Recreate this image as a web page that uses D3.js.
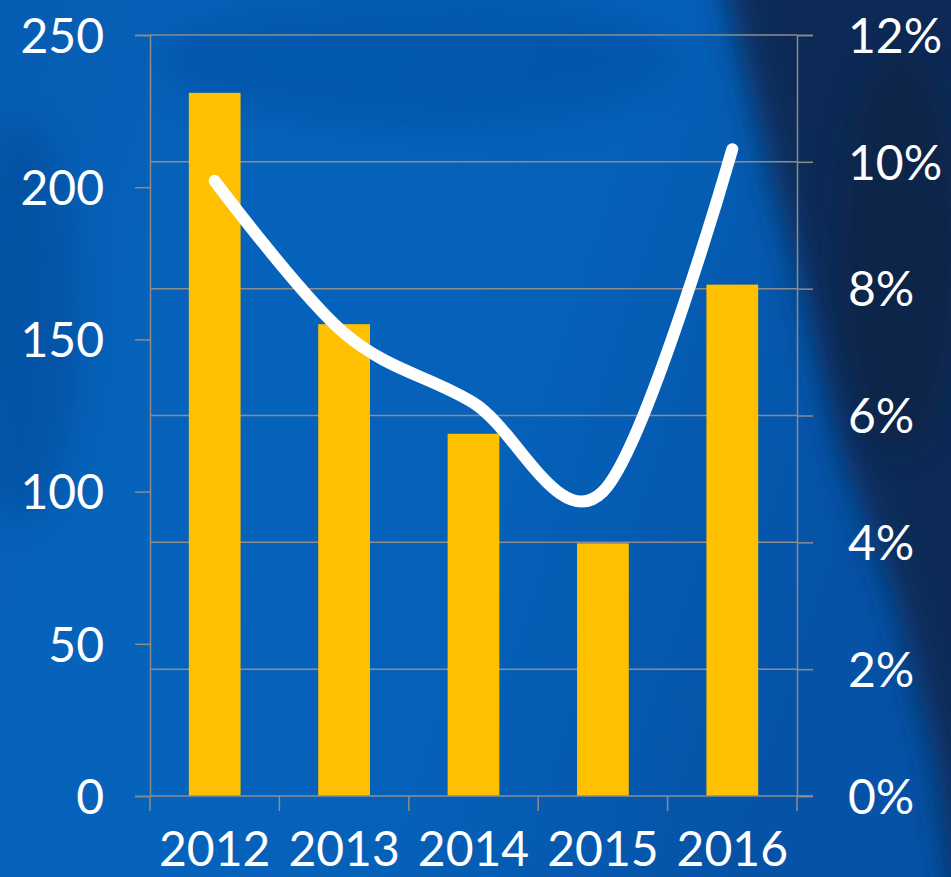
<!DOCTYPE html>
<html>
<head>
<meta charset="utf-8">
<script src="https://cdn.jsdelivr.net/npm/d3@7"></script>
<style>
  html, body { margin: 0; padding: 0; overflow: hidden; background: #0760b6; }
  svg { display: block; }
  text { font-family: Lato, "Open Sans", sans-serif; font-weight: 400; fill: #fff; }
</style>
</head>
<body>
<div id="chart"></div>
<script>
var years = ["2012", "2013", "2014", "2015", "2016"];
var barValues = [231, 155, 119, 83, 168];
var rateValues = [9.7, 7.3, 6.2, 4.8, 10.2];
var leftTicks = [0, 50, 100, 150, 200, 250];
var rightTicks = [0, 2, 4, 6, 8, 10, 12];

function init()
{
    var w = 951;
    var h = 877;
    var left = 150, right = 797, top = 35, bottom = 796;
    var grey = "#8c8c8c";

    var svg = d3.select("#chart")
                .append("svg")
                .attr("width", w)
                .attr("height", h);

    // background
    var defs = svg.append("defs");
    var bg = defs.append("linearGradient").attr("id", "bg")
        .attr("x1", 0).attr("y1", 0).attr("x2", 1).attr("y2", 0.3);
    bg.append("stop").attr("offset", 0).attr("stop-color", "#065cb2");
    bg.append("stop").attr("offset", 0.3).attr("stop-color", "#0663bb");
    bg.append("stop").attr("offset", 0.65).attr("stop-color", "#0560b8");
    bg.append("stop").attr("offset", 1).attr("stop-color", "#0552a6");
    defs.append("filter").attr("id", "blur")
        .attr("x", "-50%").attr("y", "-50%").attr("width", "200%").attr("height", "200%")
        .append("feGaussianBlur").attr("stdDeviation", 16);

    svg.append("rect").attr("width", w).attr("height", h).attr("fill", "url(#bg)");
    svg.append("ellipse")
        .attr("cx", 20).attr("cy", 320).attr("rx", 60).attr("ry", 200)
        .attr("fill", "#03408a").attr("opacity", 0.35)
        .attr("filter", "url(#blur)");
    svg.append("ellipse")
        .attr("cx", 420).attr("cy", 60).attr("rx", 260).attr("ry", 70)
        .attr("fill", "#0450a2").attr("opacity", 0.5)
        .attr("filter", "url(#blur)");
    svg.append("path")
        .attr("d", "M718,-40 L1000,-40 L1000,940 L960,940 L935,760 L895,600 L840,450 L805,300 L765,150 Z")
        .attr("fill", "#0b2b57")
        .attr("filter", "url(#blur)");
    svg.append("ellipse")
        .attr("cx", 900).attr("cy", 250).attr("rx", 60).attr("ry", 200)
        .attr("fill", "#07203f").attr("opacity", 0.6)
        .attr("filter", "url(#blur)");

    var x = d3.scaleBand()
        .domain(years)
        .range([left, right])
        .paddingInner(0.6)
        .paddingOuter(0.3);
    var step = x.step();

    var yLeft = d3.scaleLinear().domain([0, 250]).range([bottom, top]);
    var yRight = d3.scaleLinear().domain([0, 12]).range([bottom, top]);

    // gridlines at right axis ticks
    svg.append("g")
        .selectAll("line")
        .data(rightTicks.slice(1))
        .enter()
        .append("line")
        .attr("x1", left).attr("x2", right)
        .attr("y1", function(d) { return yRight(d); })
        .attr("y2", function(d) { return yRight(d); })
        .attr("stroke", grey).attr("stroke-width", 1.5);

    // bars
    svg.append("g")
        .selectAll("rect")
        .data(barValues)
        .enter()
        .append("rect")
        .attr("x", function(d, i) { return x(years[i]); })
        .attr("y", function(d) { return yLeft(d); })
        .attr("width", x.bandwidth())
        .attr("height", function(d) { return bottom - yLeft(d); })
        .attr("fill", "#ffc000");

    // left axis
    var gl = svg.append("g")
        .attr("transform", "translate(" + left + ",0)")
        .call(d3.axisLeft(yLeft).tickValues(leftTicks).tickSize(15).tickPadding(31));
    // right axis
    var gr = svg.append("g")
        .attr("transform", "translate(" + right + ",0)")
        .call(d3.axisRight(yRight).tickValues(rightTicks).tickSize(16).tickPadding(35)
              .tickFormat(function(d) { return d + "%"; }));

    [gl, gr].forEach(function(g) {
        g.selectAll("path.domain").attr("stroke", grey).attr("stroke-width", 1.5);
        g.selectAll(".tick line").attr("stroke", grey).attr("stroke-width", 1.5);
        g.selectAll(".tick text")
            .attr("font-size", 48)
            .attr("font-family", "Lato, sans-serif")
            .attr("font-weight", 400)
            .attr("fill", "#fff")
            .attr("dy", "0.36em");
    });

    // bottom axis: line, ticks at band boundaries, labels at centers
    var gb = svg.append("g");
    gb.append("line")
        .attr("x1", left).attr("x2", right + 16)
        .attr("y1", bottom).attr("y2", bottom)
        .attr("stroke", grey).attr("stroke-width", 1.5);
    var bounds = years.map(function(d) { return x(d) - step * 0.3; }).concat([right]);
    gb.selectAll("line.tk")
        .data(bounds)
        .enter()
        .append("line")
        .attr("class", "tk")
        .attr("x1", function(d) { return d; }).attr("x2", function(d) { return d; })
        .attr("y1", bottom).attr("y2", bottom + 15)
        .attr("stroke", grey).attr("stroke-width", 1.5);
    gb.selectAll("text")
        .data(years)
        .enter()
        .append("text")
        .attr("x", function(d) { return x(d) + x.bandwidth() / 2; })
        .attr("y", 866)
        .attr("text-anchor", "middle")
        .attr("font-size", 48)
        .text(function(d) { return d; });

    // smoothed line on right axis
    var line = d3.line()
        .x(function(d, i) { return x(years[i]) + x.bandwidth() / 2; })
        .y(function(d) { return yRight(d); })
        .curve(d3.curveCardinal.tension(0));
    svg.append("path")
        .datum(rateValues)
        .attr("d", line)
        .attr("fill", "none")
        .attr("stroke", "#fff")
        .attr("stroke-width", 12)
        .attr("stroke-linecap", "round")
        .attr("stroke-linejoin", "round");
}
window.onload = init;
</script>
</body>
</html>
